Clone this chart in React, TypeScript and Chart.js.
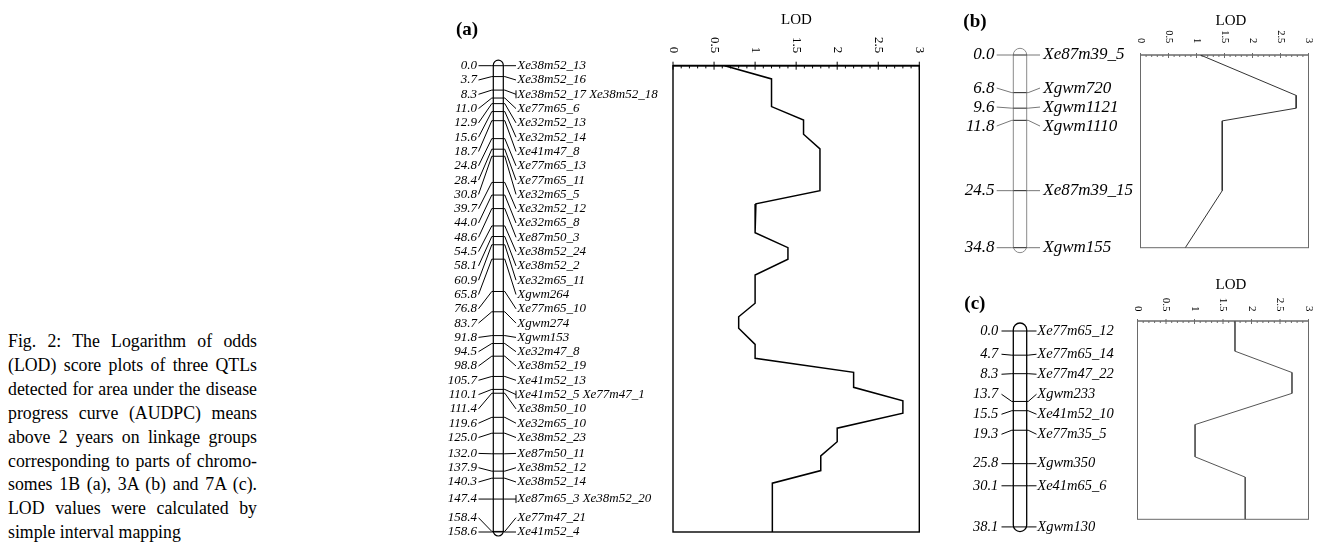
import React, { useEffect, useRef } from "react";
import { Chart, registerables } from "chart.js";
Chart.register(...registerables);

const SERIF = "'Liberation Serif', 'Times New Roman', serif";

// ---------- Panel (a): linkage group on chromosome 1B ----------
const cmA = [0.0, 3.7, 8.3, 11.0, 12.9, 15.6, 18.7, 24.8, 28.4, 30.8, 39.7, 44.0, 48.6, 54.5, 58.1, 60.9, 65.8, 76.8, 83.7, 91.8, 94.5, 98.8, 105.7, 110.1, 111.4, 119.6, 125.0, 132.0, 137.9, 140.3, 147.4, 158.4, 158.6];
const namesA = ["Xe38m52_13", "Xe38m52_16", "Xe38m52_17 Xe38m52_18", "Xe77m65_6", "Xe32m52_13", "Xe32m52_14", "Xe41m47_8", "Xe77m65_13", "Xe77m65_11", "Xe32m65_5", "Xe32m52_12", "Xe32m65_8", "Xe87m50_3", "Xe38m52_24", "Xe38m52_2", "Xe32m65_11", "Xgwm264", "Xe77m65_10", "Xgwm274", "Xgwm153", "Xe32m47_8", "Xe38m52_19", "Xe41m52_13", "Xe41m52_5 Xe77m47_1", "Xe38m50_10", "Xe32m65_10", "Xe38m52_23", "Xe87m50_11", "Xe38m52_12", "Xe38m52_14", "Xe87m65_3 Xe38m52_20", "Xe77m47_21", "Xe41m52_4"];
const lodCmA = [0, 4.5, 13.9, 18.5, 23.3, 28.3, 42.5, 47.0, 56.8, 61.9, 65.8, 71.2, 80.8, 85.4, 89.3, 94.8, 99.5, 104.3, 109.4, 114.0, 118.2, 123.3, 127.9, 132.7, 137.7, 142.0, 158.6];
const lodA = [0.63, 1.2, 1.2, 1.59, 1.59, 1.79, 1.79, 1.01, 1.0, 1.4, 1.4, 1.0, 1.0, 0.8, 0.8, 1.0, 1.0, 2.2, 2.2, 2.8, 2.8, 2.0, 2.0, 1.8, 1.8, 1.21, 1.21];

// ---------- Panel (b): linkage group on chromosome 3A ----------
const cmB = [0.0, 6.8, 9.6, 11.8, 24.5, 34.8];
const namesB = ["Xe87m39_5", "Xgwm720", "Xgwm1121", "Xgwm1110", "Xe87m39_15", "Xgwm155"];
const lodCmB = [0, 7.3, 9.6, 11.9, 24.5, 34.8];
const lodB = [1.07, 2.78, 2.78, 1.46, 1.46, 0.8];

// ---------- Panel (c): linkage group on chromosome 7A ----------
const cmC = [0.0, 4.7, 8.3, 13.7, 15.5, 19.3, 25.8, 30.1, 38.1];
const namesC = ["Xe77m65_12", "Xe77m65_14", "Xe77m47_22", "Xgwm233", "Xe41m52_10", "Xe77m35_5", "Xgwm350", "Xe41m65_6", "Xgwm130"];
const lodCmC = [0, 5.8, 9.9, 13.9, 19.9, 26.1, 30.0, 38.1];
const lodC = [1.71, 1.71, 2.71, 2.71, 1.01, 1.01, 1.89, 1.89];

// ---------- LOD axis ----------
const lodTickVals = [0, 0.5, 1, 1.5, 2, 2.5, 3];
const lodTickLabels = ["0", "0.5", "1", "1.5", "2", "2.5", "3"];
const lodAxisTitle = "LOD";

// ---------- Caption ----------
const captionLines = [
  "Fig. 2: The Logarithm of odds",
  "(LOD) score plots of three QTLs",
  "detected for area under the disease",
  "progress curve (AUDPC) means",
  "above 2 years on linkage groups",
  "corresponding to parts of chromo-",
  "somes 1B (a), 3A (b) and 7A (c).",
  "LOD values were calculated by",
  "simple interval mapping",
];

type Panel = {
  key: string;
  title: string;
  cm: number[];
  names: string[];
  lodCm: number[];
  lod: number[];
  canvas: { x: number; y: number; w: number; h: number };
  area: { l: number; r: number; t: number; b: number };
  chromL: number;
  chromR: number;
  capTop: number;
  capBottom: number;
  cmRight: number;
  nameLeft: number;
  connL: number;
  connR: number;
  font: number;
  gap: number;
  chromScale: number;
  chromOffset: number;
  chromColor: string;
  connColor: string;
  markColor: string;
  chromWidth: number;
  boxColor: string;
  boxWidth: number;
  axisWidth: number;
  curveColor: string;
  curveWidth: number;
  tickFont: number;
  tickGap: number;
  majorOut: number;
  majorIn: number;
  minorIn: number;
  titlePos: { x: number; y: number };
  lodPos: { x: number; y: number };
};

const panels: Panel[] = [
  {
    key: "a", title: "(a)", cm: cmA, names: namesA, lodCm: lodCmA, lod: lodA,
    canvas: { x: 440, y: 0, w: 490, h: 542 },
    area: { l: 673, r: 919.3, t: 65.7, b: 532 },
    chromL: 493.3, chromR: 503.3, capTop: 5.5, capBottom: 4,
    cmRight: 477, nameLeft: 517.3, connL: 478.5, connR: 516,
    font: 13, gap: 14.3, chromScale: 1, chromOffset: 0,
    chromColor: "#000", connColor: "#000", markColor: "#000", chromWidth: 1.2,
    boxColor: "#000", boxWidth: 1.4, axisWidth: 1.8,
    curveColor: "#000", curveWidth: 1.5,
    tickFont: 13, tickGap: 12.4, majorOut: 4, majorIn: 4, minorIn: 2.7,
    titlePos: { x: 456, y: 29.7 }, lodPos: { x: 796.5, y: 20.5 },
  },
  {
    key: "b", title: "(b)", cm: cmB, names: namesB, lodCm: lodCmB, lod: lodB,
    canvas: { x: 930, y: 0, w: 387, h: 270 },
    area: { l: 1140.5, r: 1308.5, t: 55, b: 247.7 },
    chromL: 1013.3, chromR: 1026.7, capTop: 6.7, capBottom: 5,
    cmRight: 994.5, nameLeft: 1043.3, connL: 996.7, connR: 1040,
    font: 17, gap: 19, chromScale: 1, chromOffset: 0,
    chromColor: "#8a8a8a", connColor: "#777", markColor: "#222", chromWidth: 1,
    boxColor: "#6a6a6a", boxWidth: 1, axisWidth: 1,
    curveColor: "#333", curveWidth: 1,
    tickFont: 10.5, tickGap: 11.7, majorOut: 2, majorIn: 3, minorIn: 2,
    titlePos: { x: 963.3, y: 21.7 }, lodPos: { x: 1231, y: 21 },
  },
  {
    key: "c", title: "(c)", cm: cmC, names: namesC, lodCm: lodCmC, lod: lodC,
    canvas: { x: 930, y: 270, w: 387, h: 272 },
    area: { l: 1137.5, r: 1308.5, t: 321, b: 519.3 },
    chromL: 1013.3, chromR: 1026.7, capTop: 8, capBottom: 4.7,
    cmRight: 998.3, nameLeft: 1037.3, connL: 1001.5, connR: 1036.5,
    font: 14.5, gap: 20, chromScale: 0.988, chromOffset: 10,
    chromColor: "#000", connColor: "#000", markColor: "#000", chromWidth: 1.3,
    boxColor: "#6a6a6a", boxWidth: 1, axisWidth: 1,
    curveColor: "#555", curveWidth: 1,
    tickFont: 11, tickGap: 9.5, majorOut: 2, majorIn: 3, minorIn: 2,
    titlePos: { x: 964.3, y: 304.5 }, lodPos: { x: 1231, y: 285.3 },
  },
];

// label de-overlap: isotonic (pool-adjacent) placement with min spacing
function spreadLabels(t: number[], gap: number): number[] {
  const lo = t[0];
  const hi = t[t.length - 1];
  type C = { s: number; n: number; sum: number; y: number };
  const place = (c: C) => {
    c.y = Math.min(Math.max(c.sum / c.n, lo), hi - (c.n - 1) * gap);
  };
  const st: C[] = [];
  for (let i = 0; i < t.length; i++) {
    let c: C = { s: i, n: 1, sum: t[i], y: 0 };
    place(c);
    while (st.length) {
      const p = st[st.length - 1];
      if (p.y + p.n * gap > c.y + 1e-9) {
        st.pop();
        c = { s: p.s, n: p.n + c.n, sum: p.sum + c.sum - c.n * p.n * gap, y: 0 };
        place(c);
      } else break;
    }
    st.push(c);
  }
  const out: number[] = new Array(t.length);
  st.forEach((c) => {
    for (let k = 0; k < c.n; k++) out[c.s + k] = c.y + k * gap;
  });
  return out;
}

function makePlugin(p: Panel) {
  const ox = p.canvas.x;
  const oy = p.canvas.y;
  return {
    id: "lgmap_" + p.key,
    beforeDatasetsDraw(chart: any) {
      const { ctx, chartArea: a, scales } = chart;
      const xs = scales.x;
      ctx.save();
      ctx.strokeStyle = p.boxColor;
      ctx.lineWidth = p.boxWidth;
      ctx.strokeRect(a.left, a.top, a.right - a.left, a.bottom - a.top);
      ctx.lineWidth = p.axisWidth;
      ctx.beginPath();
      ctx.moveTo(a.left, a.top);
      ctx.lineTo(a.right, a.top);
      ctx.stroke();
      ctx.lineWidth = 1;
      ctx.beginPath();
      for (let k = 0; k <= 30; k++) {
        const x = xs.getPixelForValue(k / 10);
        const major = k % 5 === 0;
        ctx.moveTo(x, major ? a.top - p.majorOut : a.top);
        ctx.lineTo(x, a.top + (major ? p.majorIn : p.minorIn));
      }
      ctx.stroke();
      // rotated tick labels (reading top to bottom)
      ctx.fillStyle = "#000";
      ctx.font = `${p.tickFont}px ${SERIF}`;
      ctx.textAlign = "right";
      ctx.textBaseline = "middle";
      lodTickVals.forEach((v, i) => {
        const x = xs.getPixelForValue(v);
        ctx.save();
        ctx.translate(x, a.top - p.tickGap);
        ctx.rotate(Math.PI / 2);
        ctx.fillText(lodTickLabels[i], 0, 0);
        ctx.restore();
      });
      ctx.restore();
    },
    afterDraw(chart: any) {
      const { ctx, chartArea: a, scales } = chart;
      const ys = scales.y;
      const L = p.chromL - ox;
      const R = p.chromR - ox;
      const ty = p.cm.map(
        (c) => a.top + (ys.getPixelForValue(c) - a.top) * p.chromScale + p.chromOffset
      );
      const ly = spreadLabels(ty, p.gap);
      ctx.save();
      // chromosome body
      const top = ty[0] - p.capTop;
      const bot = ty[ty.length - 1] + p.capBottom;
      const rad = (R - L) / 2;
      ctx.strokeStyle = p.chromColor;
      ctx.lineWidth = p.chromWidth;
      ctx.beginPath();
      (ctx as any).roundRect(L, top, R - L, bot - top, rad);
      ctx.stroke();
      // marker lines across the chromosome
      ctx.strokeStyle = p.markColor;
      ctx.lineWidth = 1;
      ctx.beginPath();
      ty.forEach((y) => {
        ctx.moveTo(L, y);
        ctx.lineTo(R, y);
      });
      ctx.stroke();
      // connectors
      ctx.strokeStyle = p.connColor;
      ctx.beginPath();
      ty.forEach((y, i) => {
        ctx.moveTo(p.connL - ox, ly[i]);
        ctx.lineTo(L - 1.5, y);
        ctx.lineTo(L, y);
        ctx.moveTo(R, y);
        ctx.lineTo(R + 1.5, y);
        ctx.lineTo(p.connR - ox, ly[i]);
        if (p.names[i].indexOf(" ") >= 0) {
          ctx.moveTo(p.connR - ox, ly[i] - 4);
          ctx.lineTo(p.connR - ox, ly[i] + 4);
        }
      });
      ctx.stroke();
      // labels
      ctx.fillStyle = "#000";
      ctx.font = `italic ${p.font}px ${SERIF}`;
      ctx.textBaseline = "middle";
      ctx.textAlign = "right";
      p.cm.forEach((c, i) => ctx.fillText(c.toFixed(1), p.cmRight - ox, ly[i]));
      ctx.textAlign = "left";
      p.names.forEach((n, i) => ctx.fillText(n, p.nameLeft - ox, ly[i]));
      // titles
      ctx.font = `bold 19px ${SERIF}`;
      ctx.textAlign = "left";
      ctx.fillText(p.title, p.titlePos.x - ox, p.titlePos.y - oy);
      ctx.font = `15px ${SERIF}`;
      ctx.textAlign = "center";
      ctx.fillText(lodAxisTitle, p.lodPos.x - ox, p.lodPos.y - oy);
      ctx.restore();
    },
  };
}

function PanelChart({ p }: { p: Panel }) {
  const ref = useRef<HTMLCanvasElement | null>(null);
  useEffect(() => {
    if (!ref.current) return;
    const chart = new Chart(ref.current, {
      type: "line",
      data: {
        datasets: [
          {
            label: "LOD",
            data: p.lodCm.map((c, i) => ({ x: p.lod[i], y: c })),
            borderColor: p.curveColor,
            borderWidth: p.curveWidth,
            pointRadius: 0,
            tension: 0,
            fill: false,
          },
        ],
      },
      options: {
        indexAxis: "y",
        animation: false,
        responsive: false,
        devicePixelRatio: 1,
        layout: {
          padding: {
            left: p.area.l - p.canvas.x,
            right: p.canvas.x + p.canvas.w - p.area.r,
            top: p.area.t - p.canvas.y,
            bottom: p.canvas.y + p.canvas.h - p.area.b,
          },
        },
        plugins: { legend: { display: false }, tooltip: { enabled: false } },
        scales: {
          x: { type: "linear", min: 0, max: 3, display: false },
          y: {
            type: "linear",
            min: 0,
            max: p.cm[p.cm.length - 1],
            reverse: true,
            display: false,
          },
        },
      } as any,
      plugins: [makePlugin(p)],
    });
    return () => chart.destroy();
  }, [p]);
  return (
    <canvas
      ref={ref}
      width={p.canvas.w}
      height={p.canvas.h}
      style={{
        position: "absolute",
        left: p.canvas.x,
        top: p.canvas.y,
        width: p.canvas.w,
        height: p.canvas.h,
      }}
    />
  );
}

export default function App() {
  return (
    <div
      style={{
        position: "absolute",
        left: 0,
        top: 0,
        width: 1317,
        height: 542,
        background: "#fff",
        overflow: "hidden",
      }}
    >
      <div
        style={{
          position: "absolute",
          left: 8,
          top: 330,
          width: 249,
          fontFamily: SERIF,
          fontSize: "17.8px",
          lineHeight: "23.9px",
          color: "#000",
        }}
      >
        {captionLines.map((l, i) => {
          const last = i === captionLines.length - 1;
          return (
            <div
              key={i}
              style={{
                textAlign: last ? "left" : "justify",
                textAlignLast: last ? "auto" : "justify",
              } as any}
            >
              {l}
            </div>
          );
        })}
      </div>
      {panels.map((p) => (
        <PanelChart key={p.key} p={p} />
      ))}
    </div>
  );
}
